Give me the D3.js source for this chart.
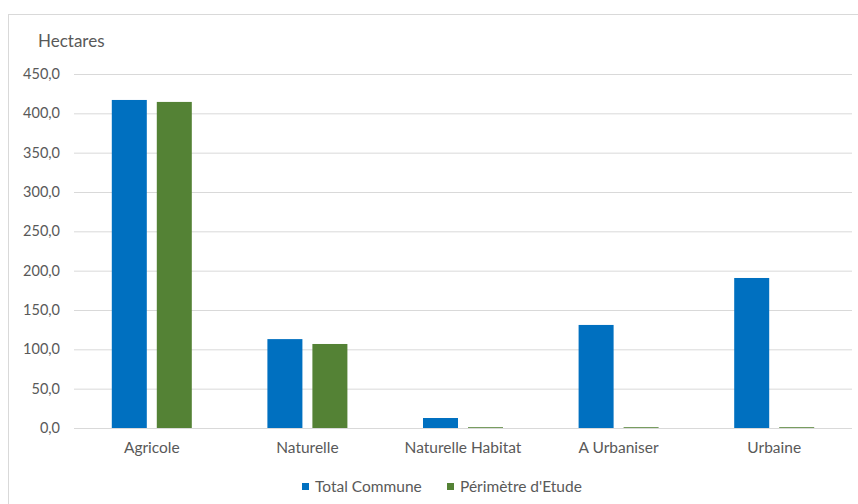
<!DOCTYPE html>
<html>
<head>
<meta charset="utf-8">
<script src="https://cdn.jsdelivr.net/npm/d3@7"></script>
<style>
  html, body { margin: 0; padding: 0; background: #fff; }
  svg { display: block; font-family: Lato, "Open Sans", sans-serif; }
</style>
</head>
<body>
<svg id="chart" width="858" height="504"></svg>
<script>
// Land area per zoning category (hectares)
const categories = ["Agricole", "Naturelle", "Naturelle Habitat", "A Urbaniser", "Urbaine"];
const seriesNames = ["Total Commune", "Périmètre d'Etude"];
const totalCommune = [417.0, 113.0, 12.7, 131.0, 190.7];
const perimetreEtude = [414.5, 106.8, 1.0, 1.0, 1.0];
const yTicks = [0, 50, 100, 150, 200, 250, 300, 350, 400, 450];
const colors = ["#0070C0", "#548235"];

const svg = d3.select("#chart");
const W = 858, H = 504;
const margin = { left: 74, right: 6, top: 74, bottom: 76 };
const textColor = "#595959";
const labelSize = "15.5px";

// chart frame
svg.append("rect")
  .attr("x", 8.5).attr("y", 14.5)
  .attr("width", W + 10).attr("height", H + 10)
  .attr("fill", "#fff").attr("stroke", "#d9d9d9").attr("stroke-width", 1);

const x0 = d3.scaleBand().domain(categories).range([margin.left, W - margin.right]).paddingInner(0).paddingOuter(0);
const x1 = d3.scaleBand().domain(seriesNames).range([0, x0.bandwidth()]).paddingInner(0.222).paddingOuter(0.84);
const y = d3.scaleLinear().domain([0, 450]).range([H - margin.bottom, margin.top]);

// gridlines
const grid = svg.append("g")
  .attr("transform", `translate(${margin.left},0)`)
  .call(d3.axisLeft(y).tickValues(yTicks).tickSize(-(W - margin.right - margin.left)).tickFormat(""));
grid.select(".domain").remove();
grid.selectAll(".tick line").attr("stroke", "#d9d9d9").attr("stroke-width", 1);

// y tick labels
const fmt = d => d3.format(".1f")(d).replace(".", ",");
const yAxis = svg.append("g")
  .attr("transform", `translate(${margin.left},0)`)
  .call(d3.axisLeft(y).tickValues(yTicks).tickSize(0).tickPadding(14).tickFormat(fmt));
yAxis.select(".domain").remove();
yAxis.selectAll("text").attr("fill", textColor).style("font-size", "14.5px").style("font-family", "Lato, sans-serif");

// bars
const data = categories.map((c, i) => ({ cat: c, vals: [totalCommune[i], perimetreEtude[i]] }));
const groups = svg.append("g").selectAll("g").data(data).join("g")
  .attr("transform", d => `translate(${x0(d.cat)},0)`);
groups.selectAll("rect")
  .data(d => d.vals.map((v, j) => ({ name: seriesNames[j], v, j })))
  .join("rect")
  .attr("x", d => x1(d.name))
  .attr("width", x1.bandwidth())
  .attr("y", d => y(d.v))
  .attr("height", d => y(0) - y(d.v))
  .attr("fill", d => colors[d.j]);

// category axis line
svg.append("line")
  .attr("x1", margin.left).attr("x2", W - margin.right)
  .attr("y1", y(0) + 0.5).attr("y2", y(0) + 0.5)
  .attr("stroke", "#d9d9d9");

// category labels
const xAxis = svg.append("g")
  .attr("transform", `translate(0,${y(0)})`)
  .call(d3.axisBottom(x0).tickSize(0).tickPadding(14));
xAxis.select(".domain").remove();
xAxis.selectAll("text").attr("fill", textColor).style("font-size", labelSize).style("font-family", "Lato, sans-serif");

// axis title
svg.append("text")
  .attr("x", 38).attr("y", 47)
  .attr("fill", textColor).style("font-size", "17px")
  .text("Hectares");

// legend
const legendItems = [{ name: seriesNames[0], x: 302 }, { name: seriesNames[1], x: 447 }];
const lg = svg.append("g").selectAll("g").data(legendItems).join("g")
  .attr("transform", d => `translate(${d.x},483)`);
lg.append("rect").attr("width", 7).attr("height", 7).attr("fill", (d, i) => colors[i]);
lg.append("text").attr("x", 13).attr("y", 8.5)
  .attr("fill", textColor).style("font-size", labelSize)
  .text(d => d.name);
</script>
</body>
</html>
